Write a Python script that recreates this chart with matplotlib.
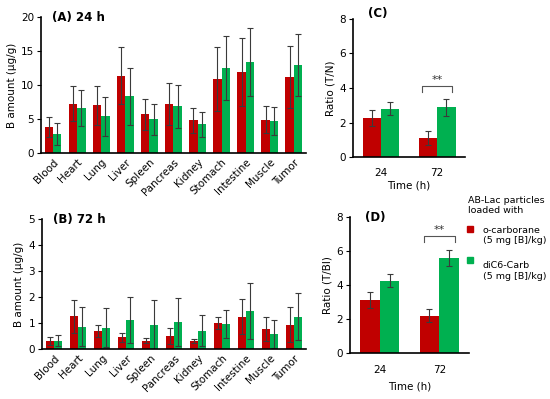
import numpy as np
import matplotlib
matplotlib.use("Agg")
import matplotlib.pyplot as plt
from matplotlib.patches import Rectangle

plt.rcParams['font.family'] = ['DejaVu Sans']
plt.rcParams['font.size'] = 7.5

# ---------- données ----------
organs = ["Blood", "Heart", "Lung", "Liver", "Spleen", "Pancreas", "Kidney",
          "Stomach", "Intestine", "Muscle", "Tumor"]

# (A) 24 h
a_carb = [3.8, 7.25, 7.0, 11.4, 5.7, 7.2, 4.8, 10.85, 11.9, 4.9, 11.2]
a_carb_err = [1.5, 2.6, 2.85, 4.2, 2.3, 3.1, 1.85, 4.7, 5.0, 1.95, 4.55]
a_dic6 = [2.85, 6.6, 5.4, 8.35, 4.95, 6.85, 4.2, 12.5, 13.4, 4.7, 13.0]
a_dic6_err = [1.6, 2.6, 2.85, 4.2, 2.3, 3.1, 1.9, 4.75, 5.0, 2.05, 4.55]

# (B) 72 h
b_carb = [0.32, 1.26, 0.70, 0.45, 0.32, 0.50, 0.31, 1.00, 1.24, 0.77, 0.93]
b_carb_err = [0.15, 0.63, 0.22, 0.18, 0.10, 0.30, 0.07, 0.22, 0.67, 0.48, 0.67]
b_dic6 = [0.32, 0.85, 0.82, 1.12, 0.92, 1.05, 0.70, 0.96, 1.46, 0.56, 1.24]
b_dic6_err = [0.20, 0.75, 0.75, 0.88, 0.95, 0.93, 0.59, 0.55, 1.06, 0.54, 0.90]

times = ["24", "72"]
# (C) ratio T/N
c_carb = [2.27, 1.12]
c_carb_err = [0.45, 0.40]
c_dic6 = [2.79, 2.87]
c_dic6_err = [0.37, 0.48]
# (D) ratio T/Bl
d_carb = [3.12, 2.20]
d_carb_err = [0.45, 0.40]
d_dic6 = [4.25, 5.60]
d_dic6_err = [0.37, 0.47]

RED = "#C00000"
GREEN = "#00B050"
ERR = "#3a3a3a"


def style_ax(ax, xpad=3):
    for s in ("top", "right"):
        ax.spines[s].set_visible(False)
    ax.spines["left"].set_linewidth(1.2)
    ax.spines["bottom"].set_linewidth(1.2)
    ax.tick_params(axis="y", direction="out", length=3, width=0.8, pad=2)
    ax.tick_params(axis="x", length=0, pad=xpad)


def bars(ax, labels, m1, e1, m2, e2, width):
    x = np.arange(len(labels))
    ek = dict(ecolor=ERR, elinewidth=0.8, capsize=2, capthick=0.8)
    ax.bar(x - width / 2, m1, width, yerr=e1, color=RED, error_kw=ek)
    ax.bar(x + width / 2, m2, width, yerr=e2, color=GREEN, error_kw=ek)
    ax.set_xticks(x)
    ax.set_xlim(-0.5, len(labels) - 0.5)
    return x


def bracket(ax, x, width, m1, e1, m2, e2, gap, leg):
    top = max(m1 + e1, m2 + e2) + gap
    xl, xr = x - width / 2, x + width / 2
    ax.plot([xl, xl, xr, xr], [top - leg, top, top, top - leg],
            color="#555555", lw=0.8)
    ax.text(x, top + leg * 0.15, "**", ha="center", va="bottom",
            fontsize=8, color="#333333")


fig = plt.figure(figsize=(5.5, 3.99), dpi=100)

# (A)
axA = fig.add_axes([0.0745, 0.6165, 0.4818, 0.3408])
bars(axA, organs, a_carb, a_carb_err, a_dic6, a_dic6_err, 0.35)
axA.set_ylim(0, 20)
axA.set_yticks([0, 5, 10, 15, 20])
axA.set_xticklabels(organs, rotation=45, ha="right", rotation_mode="anchor")
axA.set_ylabel("B amount (μg/g)", labelpad=3)
style_ax(axA)
axA.text(0.04, 1.0, "(A) 24 h", transform=axA.transAxes, fontsize=8.5,
         fontweight="bold", va="center")

# (B)
axB = fig.add_axes([0.0764, 0.1253, 0.48, 0.3258])
bars(axB, organs, b_carb, b_carb_err, b_dic6, b_dic6_err, 0.35)
axB.set_ylim(0, 5)
axB.set_yticks([0, 1, 2, 3, 4, 5])
axB.set_xticklabels(organs, rotation=45, ha="right", rotation_mode="anchor")
axB.set_ylabel("B amount (μg/g)", labelpad=3)
style_ax(axB)
axB.text(0.04, 1.0, "(B) 72 h", transform=axB.transAxes, fontsize=8.5,
         fontweight="bold", va="center")

# (C)
axC = fig.add_axes([0.6418, 0.6065, 0.2037, 0.3459])
xc = bars(axC, times, c_carb, c_carb_err, c_dic6, c_dic6_err, 0.33)
axC.set_ylim(0, 8)
axC.set_yticks([0, 2, 4, 6, 8])
axC.set_xticklabels(times)
axC.set_xlabel("Time (h)", labelpad=2)
axC.set_ylabel("Ratio (T/N)", labelpad=3)
style_ax(axC, xpad=8)
bracket(axC, xc[1], 0.52, c_carb[1], c_carb_err[1], c_dic6[1], c_dic6_err[1],
        0.78, 0.35)
axC.text(0.13, 1.04, "(C)", transform=axC.transAxes, fontsize=8.5,
         fontweight="bold", va="center")

# (D)
axD = fig.add_axes([0.6364, 0.1153, 0.2163, 0.3408])
xd = bars(axD, times, d_carb, d_carb_err, d_dic6, d_dic6_err, 0.33)
axD.set_ylim(0, 8)
axD.set_yticks([0, 2, 4, 6, 8])
axD.set_xticklabels(times)
axD.set_xlabel("Time (h)", labelpad=4)
axD.set_ylabel("Ratio (T/Bl)", labelpad=3)
style_ax(axD, xpad=9)
bracket(axD, xd[1], 0.52, d_carb[1], d_carb_err[1], d_dic6[1], d_dic6_err[1],
        0.82, 0.35)
axD.text(0.13, 1.0, "(D)", transform=axD.transAxes, fontsize=8.5,
         fontweight="bold", va="center")

# légende
fs_leg = 6.8
fig.text(0.851, 0.484, "AB-Lac particles\nloaded with", fontsize=fs_leg,
         va="center", ha="left", linespacing=1.15)
fig.patches.append(Rectangle((0.849, 0.4185), 0.011, 0.016, color=RED,
                             transform=fig.transFigure, figure=fig))
fig.text(0.878, 0.41, "o-carborane\n(5 mg [B]/kg)", fontsize=fs_leg,
         va="center", ha="left", linespacing=1.2)
fig.patches.append(Rectangle((0.849, 0.341), 0.011, 0.016, color=GREEN,
                             transform=fig.transFigure, figure=fig))
fig.text(0.878, 0.321, "diC6-Carb\n(5 mg [B]/kg)", fontsize=fs_leg,
         va="center", ha="left", linespacing=1.2)

fig.savefig("out.png", dpi=100)
